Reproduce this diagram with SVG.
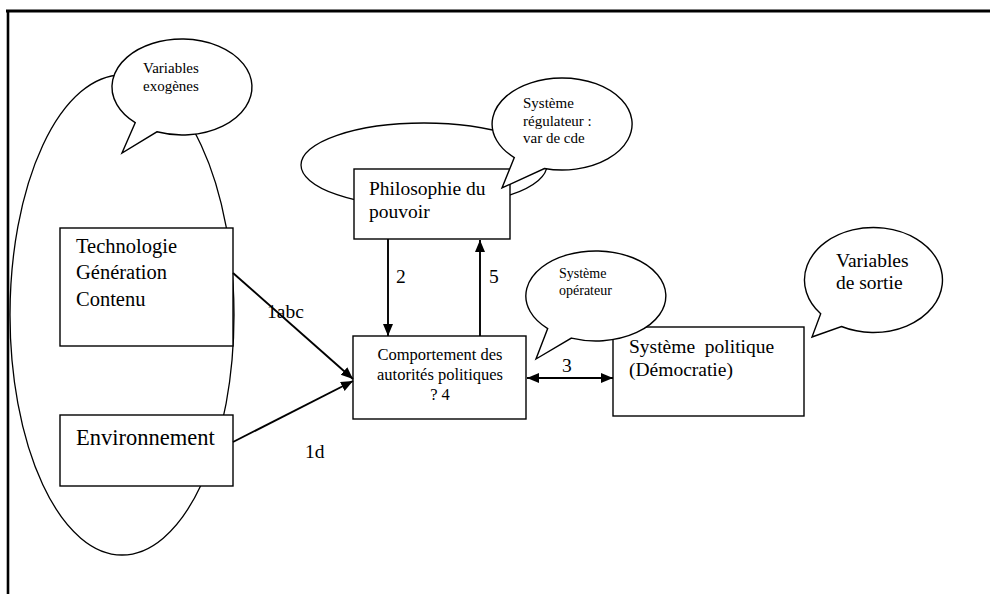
<svg xmlns="http://www.w3.org/2000/svg" width="990" height="594" viewBox="0 0 990 594" font-family="'Liberation Serif', 'Times New Roman', serif">
<style>
.frame{stroke:#000;fill:none}
.box{fill:#fff;stroke:#000;stroke-width:1.4}
.ell{fill:none;stroke:#000;stroke-width:1.3}
.bub{fill:#fff;stroke:#000;stroke-width:1.4;stroke-linejoin:miter}
.conn{stroke:#000;stroke-width:1.9;fill:none}
text{font-family:'Liberation Serif','Times New Roman',serif;fill:#000}
.big{font-size:19.5px}
.mid{font-size:16.5px}
.sm{font-size:15px}
.xs{font-size:14px}
</style>
<defs>
<marker id="ah" markerUnits="userSpaceOnUse" markerWidth="14" markerHeight="12" refX="12" refY="5" orient="auto-start-reverse">
<path d="M0,0 L12,5 L0,10 Z" fill="#000"/>
</marker>
</defs>
<rect width="990" height="594" fill="#fff"/>
<g id="frame">
<line class="frame" x1="6" y1="11" x2="990" y2="11" stroke-width="3"/>
<line class="frame" x1="8" y1="10" x2="8" y2="594" stroke-width="2.6"/>
</g>
<g id="exogenous-ellipse"><ellipse class="ell" cx="122" cy="315" rx="112" ry="240"/></g>
<g id="regulator-ellipse"><ellipse class="ell" cx="424" cy="165" rx="123" ry="42"/></g>
<g id="technologie">
<rect class="box" x="60" y="228" width="173" height="118"/>
<text class="big" x="76" y="253" style="font-size:20.5px">Technologie</text>
<text class="big" x="76" y="279" style="font-size:20.5px">Génération</text>
<text class="big" x="76" y="306" style="font-size:20.5px">Contenu</text>
</g>
<g id="environnement">
<rect class="box" x="60" y="415" width="173" height="71"/>
<text class="big" x="76" y="445" style="font-size:22.5px">Environnement</text>
</g>
<g id="philosophie">
<rect class="box" x="354" y="169" width="156" height="70"/>
<text class="big" x="369" y="195">Philosophie du</text>
<text class="big" x="369" y="218">pouvoir</text>
</g>
<g id="comportement">
<rect class="box" x="353" y="336" width="173" height="83"/>
<text class="mid" x="440" y="360" text-anchor="middle">Comportement des</text>
<text class="mid" x="440" y="380" text-anchor="middle">autorités politiques</text>
<text class="mid" x="440" y="400" text-anchor="middle">? 4</text>
</g>
<g id="systeme-politique">
<rect class="box" x="613" y="327" width="191" height="89"/>
<text class="big" x="629" y="353" xml:space="preserve">Système  politique</text>
<text class="big" x="629" y="376">(Démocratie)</text>
</g>
<g id="connectors">
<line class="conn" x1="233" y1="273" x2="353" y2="379" marker-end="url(#ah)"/>
<line class="conn" x1="233" y1="442" x2="353" y2="381" marker-end="url(#ah)"/>
<line class="conn" x1="388" y1="239" x2="388" y2="336" marker-end="url(#ah)"/>
<line class="conn" x1="480" y1="336" x2="480" y2="240" marker-end="url(#ah)"/>
<line class="conn" x1="527" y1="378" x2="613" y2="378" marker-start="url(#ah)" marker-end="url(#ah)"/>
<text class="big" x="267" y="318">1abc</text>
<text class="big" x="305" y="458">1d</text>
<text class="big" x="396" y="283">2</text>
<text class="big" x="489" y="283">5</text>
<text class="big" x="562" y="372">3</text>
</g>
<g id="bubble-exogenes">
<path class="bub" d="M156.9,131.8 A70,48 0 1 0 135.2,122.7 L122,153 Z"/>
<text class="sm" x="143" y="73">Variables</text>
<text class="sm" x="143" y="91">exogènes</text>
</g>
<g id="bubble-regulateur">
<path class="bub" d="M544.4,168.5 A70,46 0 1 0 514.3,157.6 L502,188 Z"/>
<text class="sm" x="523" y="108">Système</text>
<text class="sm" x="523" y="126">régulateur :</text>
<text class="sm" x="523" y="143">var de cde</text>
</g>
<g id="bubble-operateur">
<path class="bub" d="M571.4,338.1 A70,45 0 1 0 547.7,328.6 L536,359 Z"/>
<text class="xs" x="559" y="278">Système</text>
<text class="xs" x="559" y="295">opérateur</text>
</g>
<g id="bubble-sortie">
<path class="bub" d="M841.5,326.5 A69,52.5 0 1 0 820.7,313.8 L812,337 Z"/>
<text class="big" x="836" y="267">Variables</text>
<text class="big" x="836" y="289">de sortie</text>
</g>
</svg>
